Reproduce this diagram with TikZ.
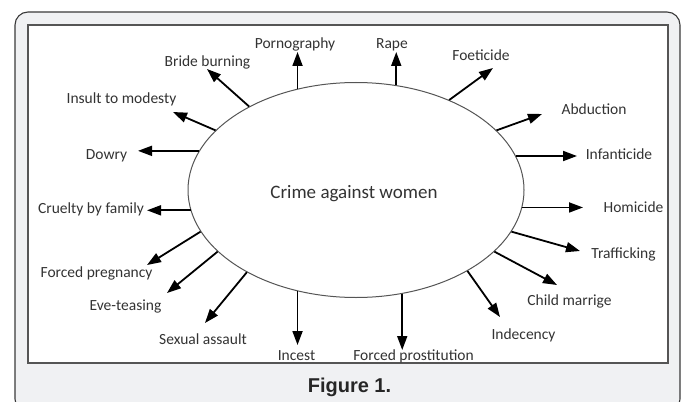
\documentclass[tikz,border=0pt]{standalone}
\usepackage{fontspec}
\setmainfont{Carlito}
\newfontfamily\figfont{Liberation Sans}
\usetikzlibrary{arrows.meta,shapes.geometric}
\definecolor{outerfill}{HTML}{F0F1F3}
\definecolor{outerline}{HTML}{3A3A3A}
\definecolor{innerline}{HTML}{555555}
\definecolor{txt}{HTML}{333333}
\tikzset{
  lbl/.style={anchor=base,inner sep=0pt,font=\fontsize{15.5}{18}\selectfont,text=txt},
  arr/.style={line width=1.8pt,black,-{Triangle[length=14pt,width=10pt]}},
}
\begin{document}
\begin{tikzpicture}[x=1pt,y=-1pt]
\useasboundingbox (0,0) rectangle (684,401);
\begin{scope}
\clip (0,0) rectangle (684,401);
\draw[fill=outerfill,draw=outerline,line width=1.1pt,rounded corners=13pt] (15,12) rectangle (680,412);
\end{scope}
\draw[fill=white,draw=innerline,line width=1.2pt] (28,25) rectangle (668,363);
\node[ellipse,draw=innerline,line width=1pt,minimum width=336pt,minimum height=215pt,inner sep=0pt] (c) at (356,190) {};
\node[anchor=base,inner sep=0pt,font=\fontsize{19}{22}\selectfont,text=txt] (t) at (354,198.5) {Crime against women};
% tips
\coordinate (tPorn) at (297,52);
\coordinate (tRape) at (395,52);
\coordinate (tFoet) at (493,68);
\coordinate (tAbd) at (542,114);
\coordinate (tInf) at (577,155);
\coordinate (tHom) at (583,210);
\coordinate (tTraf) at (580,251);
\coordinate (tChild) at (557,285);
\coordinate (tInd) at (500,317);
\coordinate (tFP) at (401,350);
\coordinate (tInc) at (299,345);
\coordinate (tSex) at (205,323);
\coordinate (tEve) at (167,293);
\coordinate (tPreg) at (147,265);
\coordinate (tCru) at (147,211);
\coordinate (tDow) at (138,153);
\coordinate (tIns) at (173,112);
\coordinate (tBri) at (207,69);
% arrows
\draw[arr] (c.120.5) -- (c.120.5 |- tPorn);
\draw[arr] (c.69.1) -- (c.69.1 |- tRape);
\draw[arr] (c.44.7) -- (tFoet);
\draw[arr] (c.23.5) -- (tAbd);
\draw[arr] (c.12.5) -- (c.12.5 -| tInf);
\draw[arr] (c.-6.9) -- (c.-6.9 -| tHom);
\draw[arr] (c.-15.7) -- (tTraf);
\draw[arr] (c.-24.9) -- (tChild);
\draw[arr] (c.-36.1) -- (tInd);
\draw[arr] (c.-66.6) -- (c.-66.6 |- tFP);
\draw[arr] (c.240.8) -- (c.240.8 |- tInc);
\draw[arr] (c.217.9) -- (tSex);
\draw[arr] (c.204.7) -- (tEve);
\draw[arr] (c.195) -- (tPreg);
\draw[arr] (c.187.3) -- (c.187.3 -| tCru);
\draw[arr] (c.166.7) -- (c.166.7 -| tDow);
\draw[arr] (c.157.6) -- (tIns);
\draw[arr] (c.142.5) -- (tBri);
% labels
\node[lbl] (lPorn) at (295,49) {Pornography};
\node[lbl] (lRape) at (392,49) {Rape};
\node[lbl] (lFoet) at (481,61) {Foeticide};
\node[lbl] (lAbd) at (594,114) {Abduction};
\node[lbl] (lInf) at (619,159) {Infanticide};
\node[lbl] (lHom) at (633.5,212) {Homicide};
\node[lbl] (lTraf) at (623.5,258) {Trafficking};
\node[lbl] (lChild) at (569.5,305) {Child marrige};
\node[lbl] (lInd) at (523.5,339) {Indecency};
\node[lbl] (lFP) at (413.5,360) {Forced prostitution};
\node[lbl] (lInc) at (296.5,360) {Incest};
\node[lbl] (lSex) at (203,344) {Sexual assault};
\node[lbl] (lEve) at (125.5,310) {Eve-teasing};
\node[lbl] (lPreg) at (96.5,277) {Forced pregnancy};
\node[lbl] (lCru) at (91,213) {Cruelty by family};
\node[lbl] (lDow) at (106.5,159) {Dowry};
\node[lbl] (lIns) at (121.5,103) {Insult to modesty};
\node[lbl] (lBri) at (207.5,67) {Bride burning};
\node[anchor=base,inner sep=0pt,font=\figfont\bfseries\fontsize{20}{24}\selectfont,text=black!85] (fig) at (349.5,392) {Figure 1.};
\end{tikzpicture}
\end{document}
